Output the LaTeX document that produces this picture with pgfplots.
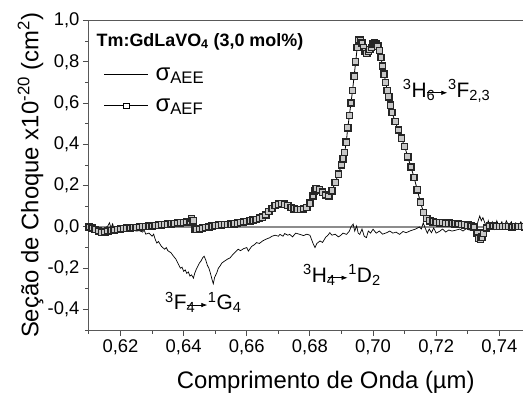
\documentclass[border=0pt]{standalone}
\usepackage{fontspec}
\setmainfont{Liberation Sans}
\usepackage{pgfplots}
\usepackage{pgfplotstable}
\pgfplotsset{compat=1.18}
\usetikzlibrary{arrows.meta}

\pgfplotstableread{
x y
0.6100 0.000
0.6110 -0.005
0.6120 -0.012
0.6130 -0.020
0.6140 -0.027
0.6150 -0.025
0.6160 -0.020
0.6170 -0.018
0.6180 -0.015
0.6190 -0.012
0.6200 -0.010
0.6210 -0.008
0.6220 -0.006
0.6230 -0.005
0.6240 -0.003
0.6250 -0.002
0.6260 0.000
0.6270 0.002
0.6280 0.003
0.6290 0.004
0.6300 0.005
0.6310 0.006
0.6320 0.008
0.6330 0.010
0.6340 0.011
0.6350 0.013
0.6360 0.015
0.6370 0.017
0.6380 0.019
0.6390 0.020
0.6400 0.022
0.6410 0.024
0.6420 0.025
0.6425 0.040
0.6430 0.030
0.6435 -0.010
0.6440 -0.012
0.6450 -0.010
0.6460 -0.006
0.6470 -0.003
0.6480 0.000
0.6490 0.004
0.6500 0.006
0.6510 0.008
0.6520 0.010
0.6530 0.011
0.6540 0.012
0.6550 0.013
0.6560 0.015
0.6570 0.018
0.6580 0.021
0.6590 0.024
0.6600 0.027
0.6610 0.030
0.6620 0.033
0.6630 0.037
0.6640 0.042
0.6650 0.047
0.6660 0.058
0.6670 0.075
0.6680 0.090
0.6690 0.103
0.6700 0.110
0.6710 0.112
0.6720 0.110
0.6730 0.104
0.6740 0.095
0.6750 0.088
0.6760 0.085
0.6770 0.085
0.6780 0.087
0.6790 0.095
0.6800 0.115
0.6810 0.150
0.6815 0.175
0.6820 0.185
0.6830 0.180
0.6840 0.168
0.6850 0.155
0.6860 0.150
0.6870 0.175
0.6880 0.215
0.6890 0.255
0.6900 0.300
0.6905 0.330
0.6910 0.360
0.6915 0.410
0.6920 0.480
0.6925 0.540
0.6930 0.600
0.6935 0.660
0.6940 0.730
0.6945 0.800
0.6950 0.870
0.6955 0.905
0.6960 0.905
0.6965 0.890
0.6970 0.870
0.6975 0.850
0.6980 0.840
0.6985 0.850
0.6990 0.860
0.6995 0.870
0.7000 0.885
0.7005 0.890
0.7010 0.885
0.7015 0.875
0.7020 0.855
0.7025 0.820
0.7030 0.780
0.7035 0.740
0.7040 0.700
0.7045 0.660
0.7050 0.630
0.7055 0.590
0.7060 0.555
0.7070 0.510
0.7080 0.470
0.7090 0.430
0.7100 0.390
0.7110 0.340
0.7120 0.290
0.7130 0.240
0.7140 0.180
0.7150 0.120
0.7160 0.070
0.7170 0.040
0.7180 0.030
0.7190 0.025
0.7200 0.022
0.7210 0.020
0.7220 0.020
0.7230 0.018
0.7240 0.018
0.7250 0.016
0.7260 0.015
0.7270 0.014
0.7280 0.012
0.7290 0.010
0.7300 0.008
0.7310 0.005
0.7320 0.000
0.7330 -0.030
0.7335 -0.055
0.7340 -0.060
0.7345 -0.050
0.7350 -0.030
0.7360 -0.005
0.7370 0.005
0.7380 0.005
0.7390 0.003
0.7400 0.002
0.7410 0.002
0.7420 0.003
0.7430 0.002
0.7440 0.000
0.7450 0.002
0.7460 0.003
0.7470 0.002
0.7480 0.001
0.7490 0.002
}\aef

\pgfplotstableread{
x y
0.6100 0.000
0.6110 -0.005
0.6120 -0.010
0.6130 -0.015
0.6140 -0.012
0.6150 -0.008
0.6160 0.005
0.6165 0.020
0.6170 -0.005
0.6175 0.015
0.6180 -0.010
0.6190 -0.012
0.6200 -0.010
0.6210 -0.015
0.6220 -0.012
0.6230 -0.018
0.6240 -0.015
0.6250 -0.020
0.6260 -0.018
0.6270 -0.025
0.6275 -0.015
0.6280 -0.035
0.6290 -0.030
0.6300 -0.045
0.6305 -0.035
0.6310 -0.060
0.6315 -0.078
0.6320 -0.070
0.6330 -0.095
0.6340 -0.108
0.6345 -0.100
0.6350 -0.115
0.6360 -0.125
0.6367 -0.140
0.6375 -0.155
0.6385 -0.185
0.6390 -0.200
0.6395 -0.195
0.6400 -0.215
0.6405 -0.208
0.6410 -0.225
0.6415 -0.218
0.6420 -0.238
0.6425 -0.232
0.6431 -0.248
0.6435 -0.225
0.6440 -0.205
0.6445 -0.190
0.6450 -0.175
0.6455 -0.165
0.6460 -0.150
0.6465 -0.142
0.6470 -0.160
0.6475 -0.185
0.6480 -0.200
0.6485 -0.225
0.6490 -0.255
0.6494 -0.275
0.6498 -0.245
0.6505 -0.222
0.6510 -0.200
0.6515 -0.190
0.6521 -0.175
0.6530 -0.165
0.6540 -0.155
0.6547 -0.150
0.6555 -0.135
0.6565 -0.120
0.6573 -0.108
0.6580 -0.115
0.6590 -0.105
0.6600 -0.100
0.6605 -0.117
0.6615 -0.095
0.6625 -0.085
0.6631 -0.076
0.6640 -0.080
0.6650 -0.068
0.6660 -0.060
0.6673 -0.052
0.6680 -0.045
0.6690 -0.040
0.6700 -0.045
0.6705 -0.036
0.6715 -0.045
0.6720 -0.032
0.6730 -0.040
0.6736 -0.036
0.6745 -0.048
0.6755 -0.030
0.6768 -0.036
0.6780 -0.042
0.6790 -0.035
0.6800 -0.040
0.6810 -0.080
0.6816 -0.100
0.6822 -0.080
0.6832 -0.068
0.6840 -0.075
0.6850 -0.050
0.6857 -0.040
0.6863 -0.028
0.6870 -0.040
0.6880 -0.035
0.6890 -0.048
0.6895 -0.044
0.6905 -0.030
0.6916 -0.036
0.6925 -0.020
0.6930 0.000
0.6937 0.014
0.6942 -0.020
0.6948 0.005
0.6953 -0.030
0.6958 -0.036
0.6965 -0.010
0.6972 -0.045
0.6979 -0.052
0.6985 -0.020
0.6992 -0.030
0.7000 -0.011
0.7010 -0.030
0.7020 -0.020
0.7030 -0.035
0.7043 -0.028
0.7053 -0.020
0.7063 -0.030
0.7073 -0.025
0.7084 -0.036
0.7095 -0.022
0.7105 -0.028
0.7116 -0.020
0.7125 -0.015
0.7135 -0.010
0.7147 0.000
0.7153 -0.010
0.7159 0.020
0.7165 -0.005
0.7172 -0.030
0.7178 -0.010
0.7185 -0.028
0.7192 -0.005
0.7200 -0.030
0.7212 -0.020
0.7220 -0.010
0.7230 -0.025
0.7240 -0.015
0.7250 -0.020
0.7264 -0.015
0.7275 -0.010
0.7285 -0.020
0.7295 -0.008
0.7305 -0.015
0.7315 -0.005
0.7328 0.000
0.7333 0.030
0.7338 0.053
0.7343 0.030
0.7348 0.045
0.7354 0.020
0.7360 0.000
0.7365 0.030
0.7370 0.005
0.7378 0.025
0.7385 -0.010
0.7392 0.030
0.7400 0.000
0.7408 0.025
0.7415 -0.005
0.7422 0.030
0.7430 0.005
0.7438 0.025
0.7445 -0.010
0.7452 0.020
0.7460 0.000
0.7468 0.025
0.7475 0.005
0.7482 0.020
0.7490 0.000
}\aee

\begin{document}
\begin{tikzpicture}
\begin{axis}[
  scale only axis,
  width=474bp, height=310bp,
  xmin=0.61, xmax=0.76,
  ymin=-0.5, ymax=1.0,
  clip=true,
  axis line style={black!65, line width=1.1bp},
  xtick={0.62,0.64,...,0.76},
  minor xtick={0.61,0.63,...,0.75},
  ytick={-0.4,-0.2,...,1.0},
  minor ytick={-0.5,-0.3,...,0.9},
  tick pos=left,
  tick align=outside,
  major tick length=6bp,
  minor tick length=3.5bp,
  every tick/.style={black!70, line width=0.9bp},
  /pgf/number format/assume math mode=true,
  /pgf/number format/use comma,
  xticklabel style={/pgf/number format/.cd, fixed, fixed zerofill, precision=2},
  yticklabel style={/pgf/number format/.cd, fixed, fixed zerofill, precision=1},
  tick label style={font=\fontsize{18.5}{20}\selectfont},
  xlabel={Comprimento de Onda (µm)},
  ylabel={Seção de Choque x10\textsuperscript{-20} (cm\textsuperscript{2})},
  label style={font=\fontsize{24}{26}\selectfont},
  xlabel style={yshift=-9bp},
  ylabel style={at={(rel axis cs:-0.1234,0.5)}, anchor=center, rotate=0},
  legend cell align=left,
  legend image code/.code={\draw[mark repeat=2,mark phase=2,#1] plot coordinates {(0bp,0bp) (22bp,0bp) (44bp,0bp)};},
  legend style={draw=none, fill=none, at={(rel axis cs:0.025,0.862)}, anchor=north west,
    font=\fontsize{24}{26}\selectfont, row sep=13bp},
]
\addlegendimage{black, line width=0.7bp}
\addlegendentry{\hspace*{5bp}σ\textsubscript{AEE}}
\addlegendimage{black, line width=0.7bp, mark=square*, mark size=2.6bp, mark options={fill=white, draw=black, line width=0.7bp}}
\addlegendentry{\hspace*{5bp}σ\textsubscript{AEF}}

\addplot[forget plot, color=black!45, line width=1.6bp] coordinates {(0.61,0) (0.76,0)};

\addplot[forget plot, black, line width=0.8bp, mark=square*, mark size=3.1bp,
  mark options={fill=black!22, draw=black!85, line width=1.4bp}] table {\aef};

\addplot[forget plot, black, line width=0.7bp] table {\aee};

\node[anchor=north west, inner sep=0pt, font=\bfseries\fontsize{18}{20}\selectfont]
  at (rel axis cs:0.016,0.96) {Tm:GdLaVO\textsubscript{4} (3,0 mol\%)};

% annotations: left part, arrow, right part
\node[anchor=base west, inner sep=0pt, font=\fontsize{21}{23}\selectfont] (a1)
  at (axis cs:0.7094,0.628) {\textsuperscript{3}H\rlap{\textsubscript{6}}};
\node[anchor=base west, inner sep=0pt, font=\fontsize{21}{23}\selectfont] (a2)
  at (axis cs:0.6341,-0.400) {\textsuperscript{3}F\rlap{\textsubscript{4}}};
\node[anchor=base west, inner sep=0pt, font=\fontsize{21}{23}\selectfont] (a3)
  at (axis cs:0.6778,-0.268) {\textsuperscript{3}H\rlap{\textsubscript{4}}};

\coordinate (bl) at (rel axis cs:-0.1878,-0.201);
\coordinate (tr) at (axis cs:0.7475,1.0);
\end{axis}
\foreach \n/\t in {a1/{\textsuperscript{3}F\textsubscript{2,3}}, a2/{\textsuperscript{1}G\textsubscript{4}}, a3/{\textsuperscript{1}D\textsubscript{2}}} {
  \draw[line width=0.7bp,-{Latex[length=6bp,width=4.5bp]}] ([xshift=0.5bp,yshift=4.5bp]\n.base east) -- ([xshift=20.5bp,yshift=4.5bp]\n.base east);
  \node[anchor=base west, inner sep=0pt, font=\fontsize{21}{23}\selectfont] at ([xshift=21bp]\n.base east) {\t};
}
\pgfresetboundingbox
\path (bl) rectangle ([yshift=20.5bp]tr);
\end{tikzpicture}
\end{document}
